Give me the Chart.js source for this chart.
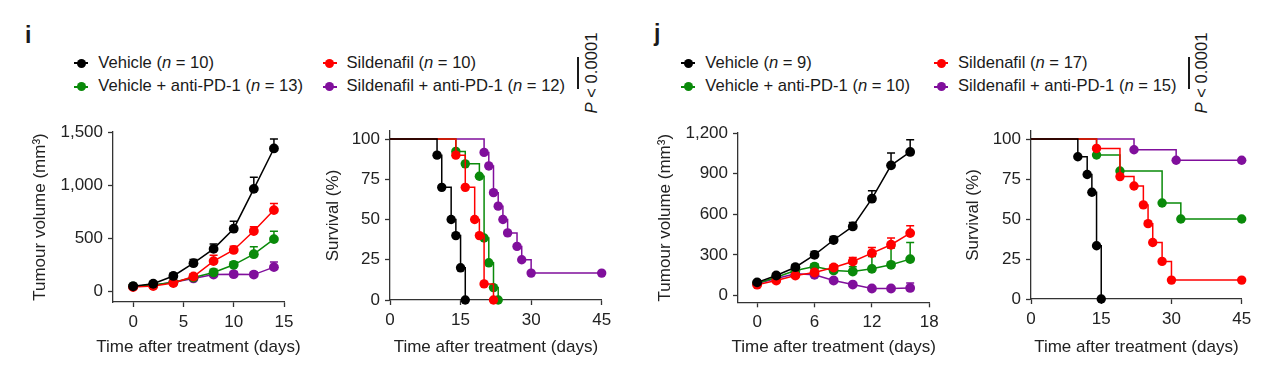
<!DOCTYPE html>
<html>
<head>
<meta charset="utf-8">
<script src="https://cdn.jsdelivr.net/npm/chart.js@4"></script>
<style>
  body { margin: 0; width: 1280px; height: 375px; background: #fff; position: relative; overflow: hidden;
         font-family: "Liberation Sans", Arial, sans-serif; color: #1a1a1a; }
  canvas { position: absolute; }
  .panel { position: absolute; font-weight: bold; font-size: 23px; line-height: 23px; }
  .lg { position: absolute; font-size: 16.6px; line-height: 16px; white-space: nowrap; }
  .mk { position: absolute; width: 14px; height: 2px; }
  .mk::after { content: ''; position: absolute; left: 2.5px; top: -3.5px; width: 9px; height: 9px;
               border-radius: 50%; background: inherit; }
  .br { position: absolute; width: 2px; background: #1a1a1a; }
  .pv { position: absolute; font-size: 16.6px; line-height: 16px; white-space: nowrap;
        transform: translate(-50%, -50%) rotate(-90deg); }
</style>
</head>
<body>
<div class="panel" style="left:25px;top:23.5px">i</div>
<div class="panel" style="left:654px;top:21.7px">j</div>
<div id="legends"></div>

<script>
// groups and colours (same order in every panel)
const groups = ['Vehicle', 'Sildenafil', 'Vehicle + anti-PD-1', 'Sildenafil + anti-PD-1'];
const colours = ['#000000', '#ff0000', '#0a8a0a', '#800f9c'];
const nI = [10, 10, 13, 12];
const nJ = [9, 17, 10, 15];
const pText = '< 0.0001';

// ---- panel i: tumour volume ----
const daysVolI = [0, 2, 4, 6, 8, 10, 12, 14];
const vehicleVolI = [48, 72, 145, 265, 400, 590, 965, 1345];
const vehicleErrI = [10, 15, 25, 35, 45, 70, 108, 89];
const sildVolI = [40, 50, 78, 140, 285, 390, 568, 765];
const sildErrI = [8, 10, 15, 25, 55, 35, 40, 62];
const vehPdVolI = [48, 60, 85, 130, 178, 250, 350, 492];
const vehPdErrI = [8, 10, 15, 20, 30, 27, 69, 74];
const sildPdVolI = [48, 58, 85, 122, 158, 162, 158, 228];
const sildPdErrI = [8, 10, 12, 15, 20, 25, 25, 48];
const volTicksI = [0, 500, 1000, 1500];
const dayTicksI = [0, 5, 10, 15];

// ---- panel i: survival ----
const vehicleSurvDaysI = [0, 10, 11, 13, 14, 15, 16];
const vehicleSurvI = [100, 90, 70, 50, 40, 20, 0];
const sildSurvDaysI = [0, 14, 16, 18, 19, 20, 22];
const sildSurvI = [100, 90, 70, 50, 40, 10, 0];
const vehPdSurvDaysI = [0, 14, 16, 19, 20, 21, 22, 23];
const vehPdSurvI = [100, 92.3, 84.6, 76.9, 38.5, 23.1, 7.7, 0];
const sildPdSurvDaysI = [0, 20, 21, 22, 23, 24, 25, 27, 28, 30, 45];
const sildPdSurvI = [100, 91.7, 83.3, 66.7, 58.3, 50, 41.7, 33.3, 25, 16.7, 16.7];

// ---- panel j: tumour volume ----
const daysVolJ = [0, 2, 4, 6, 8, 10, 12, 14, 16];
const vehicleVolJ = [97, 148, 209, 300, 410, 510, 715, 961, 1060];
const vehicleErrJ = [10, 15, 20, 25, 26, 30, 59, 91, 91];
const sildVolJ = [80, 111, 148, 170, 207, 251, 313, 375, 461];
const sildErrJ = [8, 10, 15, 20, 20, 30, 42, 49, 54];
const vehPdVolJ = [90, 135, 185, 214, 185, 177, 197, 227, 269];
const vehPdErrJ = [8, 10, 15, 20, 30, 35, 91, 123, 123];
const sildPdVolJ = [88, 125, 160, 153, 111, 81, 52, 52, 56];
const sildPdErrJ = [8, 10, 12, 15, 15, 12, 12, 12, 37];
const volTicksJ = [0, 300, 600, 900, 1200];
const dayTicksJ = [0, 6, 12, 18];

// ---- panel j: survival ----
const vehicleSurvDaysJ = [0, 10, 12, 13, 14, 15];
const vehicleSurvJ = [100, 88.9, 77.8, 66.7, 33.3, 0];
const sildSurvDaysJ = [0, 14, 19, 22, 24, 25, 26, 28, 30, 45];
const sildSurvJ = [100, 94.1, 76.5, 70.6, 58.8, 47.1, 35.3, 23.5, 11.8, 11.8];
const vehPdSurvDaysJ = [0, 14, 19, 28, 32, 45];
const vehPdSurvJ = [100, 90, 80, 60, 50, 50];
const sildPdSurvDaysJ = [0, 22, 31, 45];
const sildPdSurvJ = [100, 93.3, 86.7, 86.7];

const survTicks = [0, 25, 50, 75, 100];
const survDayTicks = [0, 15, 30, 45];
const xTitle = 'Time after treatment (days)';

const FONT = '"Liberation Sans", Arial, sans-serif';
Chart.defaults.font.family = FONT;
Chart.defaults.font.size = 17;
Chart.defaults.color = '#222';

// upper error bars, drawn under the markers
const errorBars = {
  id: 'errorBars',
  beforeDatasetsDraw(chart) {
    const ctx = chart.ctx, xs = chart.scales.x, ys = chart.scales.y;
    chart.data.datasets.forEach(ds => {
      if (!ds.errors) return;
      ctx.save();
      ctx.strokeStyle = ds.borderColor;
      ctx.lineWidth = 1.5;
      ds.data.forEach((p, k) => {
        const px = xs.getPixelForValue(p.x);
        const y0 = ys.getPixelForValue(p.y);
        const y1 = ys.getPixelForValue(p.y + ds.errors[k]);
        ctx.beginPath();
        ctx.moveTo(px, y0); ctx.lineTo(px, y1);
        ctx.moveTo(px - 4, y1); ctx.lineTo(px + 4, y1);
        ctx.stroke();
      });
      ctx.restore();
    });
  }
};

// x title drawn by hand so it is not squeezed to the axis width
const bottomTitle = {
  id: 'bottomTitle',
  afterDraw(chart, args, opts) {
    const ctx = chart.ctx, xs = chart.scales.x;
    ctx.save();
    ctx.font = '17px ' + FONT;
    ctx.fillStyle = '#222';
    ctx.textAlign = 'center';
    ctx.textBaseline = 'middle';
    ctx.fillText(opts.text, (xs.left + xs.right) / 2, opts.y);
    ctx.restore();
  }
};

function points(xs, ys) {
  return xs.map((x, k) => ({ x: x, y: ys[k] }));
}

function volSet(k, days, vals, errs) {
  return {
    data: points(days, vals), errors: errs,
    borderColor: colours[k], backgroundColor: colours[k], pointBackgroundColor: colours[k],
    borderWidth: 1.5, pointRadius: 4.9, pointBorderWidth: 0, clip: false
  };
}

function survSet(k, days, vals) {
  return {
    data: points(days, vals), stepped: true,
    borderColor: colours[k], backgroundColor: colours[k], pointBackgroundColor: colours[k],
    borderWidth: 1.5, pointBorderWidth: 0, clip: false,
    pointRadius: days.map((d, i) => i === 0 ? 0 : 4.7)
  };
}

function axis(min, max, tickVals, fit, title, titlePad) {
  return {
    type: 'linear', min: min, max: max,
    afterBuildTicks: s => { s.ticks = tickVals.map(v => ({ value: v })); },
    afterFit: fit,
    grid: { display: true, drawOnChartArea: false, drawTicks: true, tickLength: 5, tickWidth: 1.3, color: '#333' },
    border: { display: true, color: '#333', width: 1.3 },
    ticks: { padding: 5, color: '#222', font: { size: 17 }, callback: v => v.toLocaleString('en-US') },
    title: { display: !!title, text: title, color: '#222', font: { size: 17 }, padding: { top: titlePad, bottom: 0 } }
  };
}

// box = canvas position/size, area = wanted plot area (page pixels)
function makeChart(box, area, datasets, xr, yr) {
  const cv = document.createElement('canvas');
  cv.width = box.w; cv.height = box.h;
  cv.style.left = box.x + 'px'; cv.style.top = box.y + 'px';
  document.body.appendChild(cv);
  new Chart(cv, {
    type: 'line',
    data: { datasets: datasets },
    options: {
      responsive: false, animation: false,
      layout: { padding: { left: 0, top: area.t - box.y, right: box.x + box.w - area.r, bottom: 0 } },
      plugins: {
        legend: { display: false }, tooltip: { enabled: false },
        bottomTitle: { text: xTitle, y: xr.titleY - box.y }
      },
      scales: {
        x: axis(xr.min, xr.max, xr.ticks, s => { s.height = box.y + box.h - area.b; }),
        y: axis(yr.min, yr.max, yr.ticks, s => { s.width = area.l - box.x; }, yr.title, yr.pad)
      }
    },
    plugins: [errorBars, bottomTitle]
  });
}

makeChart({ x: 20, y: 112, w: 300, h: 248 }, { l: 113, t: 132, r: 284, b: 302 }, [
  volSet(0, daysVolI, vehicleVolI, vehicleErrI),
  volSet(1, daysVolI, sildVolI, sildErrI),
  volSet(2, daysVolI, vehPdVolI, vehPdErrI),
  volSet(3, daysVolI, sildPdVolI, sildPdErrI)
], { min: -2, max: 15, ticks: dayTicksI, titleY: 347.5 },
   { min: -100, max: 1500, ticks: volTicksI, title: 'Tumour volume (mm³)', pad: 9.8 });

makeChart({ x: 318, y: 111, w: 310, h: 249 }, { l: 390, t: 131, r: 601.7, b: 300 }, [
  survSet(0, vehicleSurvDaysI, vehicleSurvI),
  survSet(1, sildSurvDaysI, sildSurvI),
  survSet(2, vehPdSurvDaysI, vehPdSurvI),
  survSet(3, sildPdSurvDaysI, sildPdSurvI)
], { min: 0, max: 45, ticks: survDayTicks, titleY: 347.7 },
   { min: 0, max: 105, ticks: survTicks, title: 'Survival (%)', pad: 5.1 });

makeChart({ x: 645, y: 113, w: 310, h: 247 }, { l: 738, t: 133, r: 929.3, b: 302.3 }, [
  volSet(0, daysVolJ, vehicleVolJ, vehicleErrJ),
  volSet(1, daysVolJ, sildVolJ, sildErrJ),
  volSet(2, daysVolJ, vehPdVolJ, vehPdErrJ),
  volSet(3, daysVolJ, sildPdVolJ, sildPdErrJ)
], { min: -2, max: 18, ticks: dayTicksJ, titleY: 347 },
   { min: -50, max: 1200, ticks: volTicksJ, title: 'Tumour volume (mm³)', pad: 9.8 });

makeChart({ x: 958, y: 111, w: 312, h: 249 }, { l: 1031, t: 131, r: 1241.7, b: 299 }, [
  survSet(0, vehicleSurvDaysJ, vehicleSurvJ),
  survSet(1, sildSurvDaysJ, sildSurvJ),
  survSet(2, vehPdSurvDaysJ, vehPdSurvJ),
  survSet(3, sildPdSurvDaysJ, sildPdSurvJ)
], { min: 0, max: 45, ticks: survDayTicks, titleY: 347.7 },
   { min: 0, max: 105, ticks: survTicks, title: 'Survival (%)', pad: 5.1 });

// legends: two columns x two rows, plus the P-value bracket
function legend(ns, col1, col2, bracketX) {
  const rows = [54.8, 78.2];
  const slots = [[col1, rows[0]], [col2, rows[0]], [col1, rows[1]], [col2, rows[1]]];
  const box = document.getElementById('legends');
  groups.forEach((g, k) => {
    const [x, y] = slots[k];
    const mk = document.createElement('div');
    mk.className = 'mk';
    mk.style.background = colours[k];
    mk.style.left = (x - 7) + 'px';
    mk.style.top = (y + 7.5) + 'px';
    box.appendChild(mk);
    const t = document.createElement('div');
    t.className = 'lg';
    t.style.left = (x + 17) + 'px';
    t.style.top = y + 'px';
    t.innerHTML = g + ' (<i>n</i> = ' + ns[k] + ')';
    box.appendChild(t);
  });
  const br = document.createElement('div');
  br.className = 'br';
  br.style.left = (bracketX - 1) + 'px';
  br.style.top = '56.7px';
  br.style.height = '32.6px';
  box.appendChild(br);
  const p = document.createElement('div');
  p.className = 'pv';
  p.style.left = (bracketX + 13.4) + 'px';
  p.style.top = '72.5px';
  p.innerHTML = '<i>P</i> ' + pText;
  box.appendChild(p);
}

legend(nI, 81.3, 329.5, 578.3);
legend(nJ, 688.3, 941, 1189);
</script>
</body>
</html>
